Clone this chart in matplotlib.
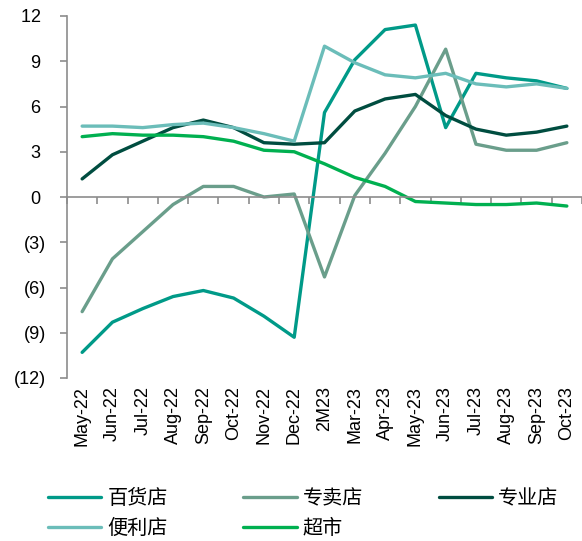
import matplotlib
matplotlib.use("Agg")
import matplotlib.pyplot as plt
from matplotlib.ticker import FuncFormatter, FixedLocator, NullFormatter
from matplotlib.font_manager import FontProperties
import numpy as np

categories = ["May-22", "Jun-22", "Jul-22", "Aug-22", "Sep-22", "Oct-22", "Nov-22", "Dec-22",
              "2M23", "Mar-23", "Apr-23", "May-23", "Jun-23", "Jul-23", "Aug-23", "Sep-23", "Oct-23"]

baihuo = [-10.3, -8.3, -7.4, -6.6, -6.2, -6.7, -7.9, -9.3, 5.6, 9.1, 11.1, 11.4, 4.6, 8.2, 7.9, 7.7, 7.2]
zhuanmai = [-7.6, -4.1, -2.3, -0.5, 0.7, 0.7, 0.0, 0.2, -5.3, 0.1, 2.9, 6.0, 9.8, 3.5, 3.1, 3.1, 3.6]
zhuanye = [1.2, 2.8, 3.7, 4.6, 5.1, 4.6, 3.6, 3.5, 3.6, 5.7, 6.5, 6.8, 5.4, 4.5, 4.1, 4.3, 4.7]
bianli = [4.7, 4.7, 4.6, 4.8, 4.9, 4.6, 4.2, 3.7, 10.0, 8.9, 8.1, 7.9, 8.2, 7.5, 7.3, 7.5, 7.2]
chaoshi = [4.0, 4.2, 4.1, 4.1, 4.0, 3.7, 3.1, 3.0, 2.2, 1.3, 0.7, -0.3, -0.4, -0.5, -0.5, -0.4, -0.6]

series_names = ["百货店", "专卖店", "专业店", "便利店", "超市"]
series_values = [baihuo, zhuanmai, zhuanye, bianli, chaoshi]
colors = ["#009a88", "#6a9e8b", "#004d40", "#6bbdb9", "#00b050"]

y_ticks = [12, 9, 6, 3, 0, -3, -6, -9, -12]

plt.rcParams['font.family'] = ['Liberation Sans', 'DejaVu Sans']

fig = plt.figure(figsize=(5.82, 5.41), dpi=100)
ax = fig.add_axes([67/582, 1-378/541, 1-67/582, (378-16)/541])

x = np.arange(len(categories))
for name, vals, c in zip(series_names, series_values, colors):
    ax.plot(x, vals, color=c, lw=2.4, label=name, solid_capstyle='round', solid_joinstyle='round')

ax.set_xlim(-0.5, len(categories) - 0.5)
ax.set_ylim(-12, 12)

axis_color = "#8c8c8c"
for s in ["top", "right"]:
    ax.spines[s].set_visible(False)
ax.spines["left"].set_color(axis_color)
ax.spines["left"].set_linewidth(1.2)
ax.spines["bottom"].set_position(("data", 0))
ax.spines["bottom"].set_color(axis_color)
ax.spines["bottom"].set_linewidth(1.2)

def fmt(v, pos):
    v = int(round(v))
    if v < 0:
        return f"({abs(v)})"
    return f"{v} "

ax.yaxis.set_major_locator(FixedLocator(y_ticks))
ax.yaxis.set_major_formatter(FuncFormatter(fmt))
ax.tick_params(axis="y", direction="out", length=5, width=1.2, color=axis_color,
               labelsize=13, pad=10, labelcolor="#000000")

ax.xaxis.set_major_locator(FixedLocator(x))
ax.xaxis.set_major_formatter(NullFormatter())
ax.xaxis.set_minor_locator(FixedLocator(np.arange(len(categories) + 1) - 0.5))
ax.tick_params(axis="x", which="major", length=0)
ax.tick_params(axis="x", which="minor", direction="out", length=5, width=1.2, color=axis_color)

sec = ax.secondary_xaxis(0.0)
sec.set_xticks(x)
sec.set_xticklabels(categories, rotation=90, fontsize=13)
sec.tick_params(length=0, pad=6)
sec.spines["bottom"].set_visible(False)

handles, labels = ax.get_legend_handles_labels()
order = [0, 3, 1, 4, 2]
legend_font = FontProperties(family=["Noto Sans CJK SC", "DejaVu Sans"], size=14.5)
leg = fig.legend([handles[i] for i in order], [labels[i] for i in order],
                 ncol=3, loc="center left", bbox_to_anchor=(48/582, 1 - 513.5/541),
                 frameon=False, prop=legend_font,
                 handlelength=2.65, handletextpad=0.3, columnspacing=3.75, labelspacing=0.45,
                 borderpad=0, borderaxespad=0)

fig.savefig("out.png", dpi=100)
